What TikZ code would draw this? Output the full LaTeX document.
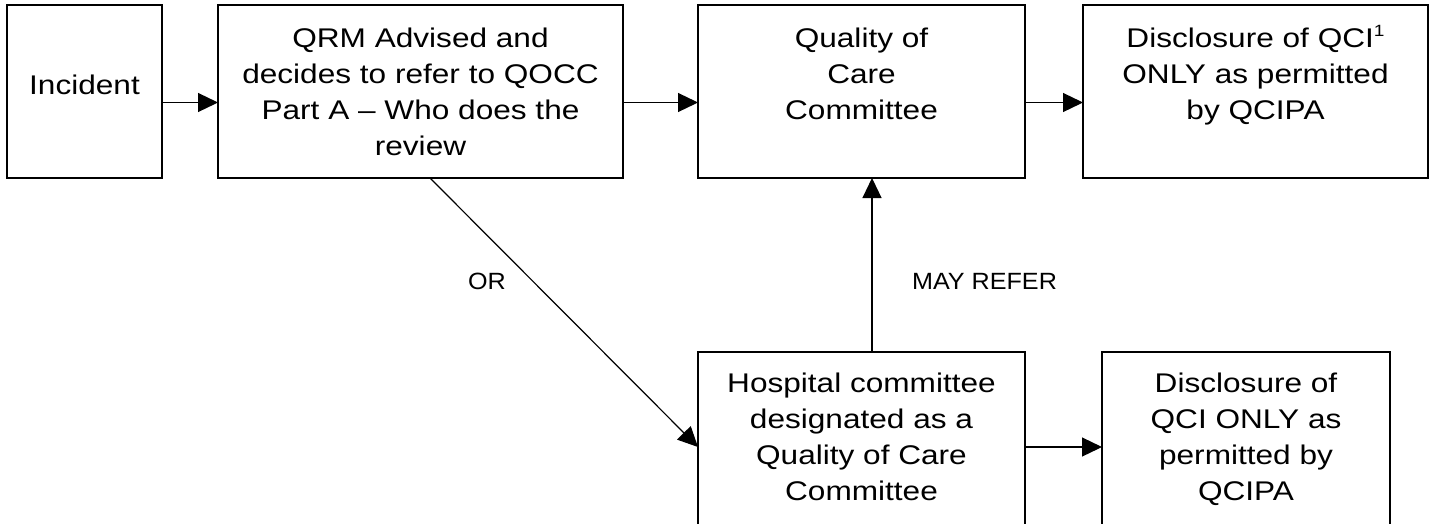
\documentclass[tikz,border=0pt]{standalone}
\usepackage{fontspec}
\setmainfont{Liberation Sans}[FakeStretch=1.17]
\newfontfamily\lblfont{Liberation Sans}[FakeStretch=1.07]
\usetikzlibrary{arrows.meta}
\newcommand{\bxt}[4]{\parbox[c][#2][t]{#1}{\centering\rule{0pt}{#3}#4\par}}
\begin{document}
\begin{tikzpicture}[x=1pt,y=-1pt,
  box/.style={draw=black, line width=1.2pt, inner sep=0pt, outer sep=0pt, anchor=north west, font=\fontsize{27pt}{36.3pt}\selectfont},
  conn/.style={line width=1.2pt, -{Triangle[length=20pt,width=19pt]}},
  lbl/.style={inner sep=0pt, font=\lblfont\fontsize{23.5pt}{26pt}\selectfont}]
\path[use as bounding box, clip] (0,0) rectangle (1431,523);
\fill[white] (0,0) rectangle (1431,523);
\node[box] (inc) at (7,5) {\bxt{155pt}{173pt}{89pt}{Incident}};
\node[box] (qrm) at (218,5) {\bxt{405pt}{173pt}{42pt}{QRM Advised and\\decides to refer to QOCC\\Part A – Who does the\\review}};
\node[box] (qcc) at (698,5) {\bxt{327pt}{173pt}{42pt}{Quality of\\Care\\Committee}};
\node[box] (dis1) at (1083,5) {\bxt{345pt}{173pt}{42pt}{Disclosure of QCI\raisebox{10.3pt}{\fontsize{16.3pt}{16pt}\selectfont 1}\\ONLY as permitted\\by QCIPA}};
\node[box] (hosp) at (698,352) {\bxt{327pt}{210pt}{40pt}{Hospital committee\\designated as a\\Quality of Care\\Committee}};
\node[box] (dis2) at (1102,352) {\bxt{288pt}{210pt}{40pt}{Disclosure of\\QCI ONLY as\\permitted by\\QCIPA}};
\draw[conn] ([yshift=-11pt]inc.east) -- ([yshift=-11pt]qrm.west);
\draw[conn] ([yshift=-11pt]qrm.east) -- ([yshift=-11pt]qcc.west);
\draw[conn] ([yshift=-11pt]qcc.east) -- ([yshift=-11pt]dis1.west);
\draw[conn] ([xshift=9.5pt]qrm.south) -- ([yshift=10pt]hosp.west);
\draw[conn] ([xshift=10.5pt]hosp.north) -- ([xshift=10.5pt]qcc.south);
\draw[conn] ([yshift=10pt]hosp.east) -- ([yshift=10pt]dis2.west);
\node[lbl] (or) at (487,281.5) {OR};
\node[lbl] (may) at (984.5,281.5) {MAY REFER};
\end{tikzpicture}
\end{document}
